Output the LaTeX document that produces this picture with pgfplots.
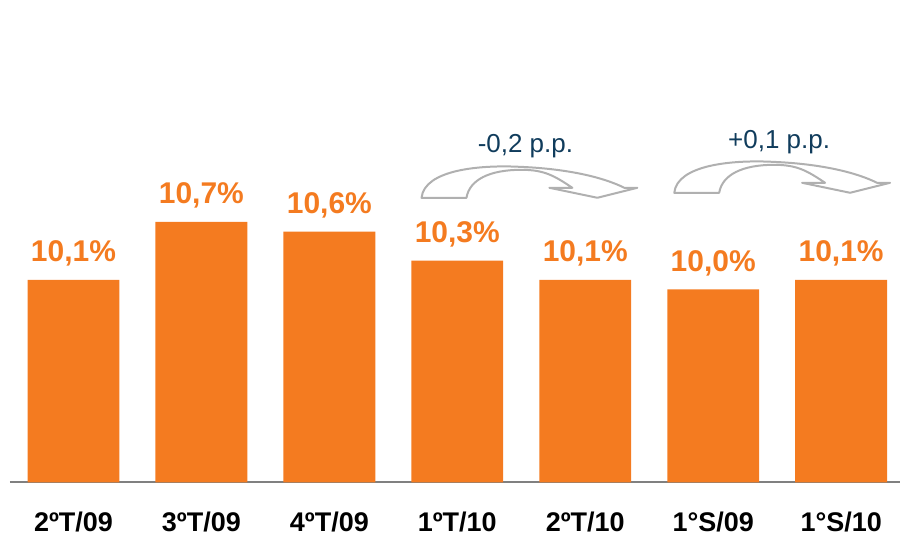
\documentclass[border=0pt]{standalone}
\usepackage{fontspec}
\setmainfont{Liberation Sans}
\usepackage{pgfplots}
\pgfplotsset{compat=1.18}
\definecolor{barorange}{RGB}{244,123,32}
\definecolor{navy}{RGB}{16,60,92}
\definecolor{arrowgray}{RGB}{176,176,176}
\newcommand{\curvedarrow}{%
  \draw[arrowgray, line width=1pt, fill=white, line join=round]
    (422,198) .. controls (425,170) and (480,165) .. (520,167)
    .. controls (570,169) and (605,178) .. (625,188)
    -- (638,188) -- (598,198) -- (550,188) -- (573,188)
    .. controls (555,176) and (545,170) .. (522,170)
    .. controls (490,170) and (470,180) .. (467,198) -- cycle;}
\begin{document}
\begin{tikzpicture}
\path (0,0) rectangle (450.5pt,267.5pt);
\begin{axis}[
  at={(5pt,26pt)}, anchor=south west,
  scale only axis, width=445.5pt, height=241.5pt,
  ymin=8, ymax=13,
  xmin=-0.496, xmax=6.46,
  axis x line=bottom, axis y line=none,
  axis line style={-, draw=gray, line width=1pt},
  xtick=data,
  xticklabels={2ºT/09,3ºT/09,4ºT/09,1ºT/10,2ºT/10,1°S/09,1°S/10},
  major tick length=0pt,
  xticklabel style={font=\fontsize{13.5}{15}\selectfont\bfseries, yshift=-11pt},
  ybar, bar width=46pt,
  point meta=explicit symbolic,
  nodes near coords,
  every node near coord/.append style={anchor=base, yshift=9pt, inner sep=0pt,
     font=\fontsize{15}{17}\selectfont\bfseries, text=barorange},
]
\addplot[fill=barorange, draw=none] coordinates {
  (0,10.1) [10,1\%]
  (1,10.7) [10,7\%]
  (2,10.6) [10,6\%]
  (3,10.3) [10,3\%]
  (4,10.1) [10,1\%]
  (5,10.0) [10,0\%]
  (6,10.1) [10,1\%]
};
\end{axis}
\begin{scope}[x=0.5pt,y=-0.5pt,yshift=267.5pt]
  \curvedarrow
  \begin{scope}[shift={(253,-5)}]
    \curvedarrow
  \end{scope}
  \node[anchor=base, text=navy, font=\fontsize{13}{15}\selectfont, inner sep=0pt] at (526,153) {-0,2 p.p.};
  \node[anchor=base, text=navy, font=\fontsize{13}{15}\selectfont, inner sep=0pt] at (780,149) {+0,1 p.p.};
\end{scope}
\end{tikzpicture}
\end{document}
